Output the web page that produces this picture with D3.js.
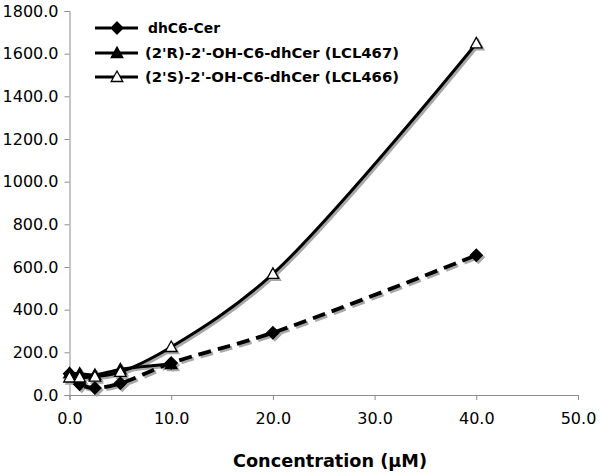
<!DOCTYPE html>
<html><head><meta charset="utf-8">
<script src="https://cdn.jsdelivr.net/npm/d3@7/dist/d3.min.js"></script>
<style>body{margin:0;background:#fff}</style>
</head><body>
<svg id="c" width="600" height="473"></svg>
<script>
const xTicks = [0, 10, 20, 30, 40, 50];
const yTicks = [0, 200, 400, 600, 800, 1000, 1200, 1400, 1600, 1800];
const seriesNames = ["dhC6-Cer", "(2'R)-2'-OH-C6-dhCer (LCL467)", "(2'S)-2'-OH-C6-dhCer (LCL466)"];
const dhC6X = [0, 1, 2.5, 5, 10, 20, 40];
const dhC6Y = [100, 50, 33, 55, 150, 292, 655];
const rX = [0, 1, 2.5, 5, 10];
const rY = [102, 100, 94, 120, 145];
const sX = [0, 1, 2.5, 5, 10, 20, 40];
const sY = [82, 82, 86, 108, 225, 568, 1648];
const xLabel = "Concentration (μM)";

const svg = d3.select("#c");
const x = d3.scaleLinear().domain([0, 50]).range([69.5, 578]);
const y = d3.scaleLinear().domain([0, 1800]).range([395, 11]);
const axisColor = "#8c8c8c";

const gx = svg.append("g").attr("transform", "translate(0,395)")
  .call(d3.axisBottom(x).tickValues(xTicks).tickSize(5).tickPadding(13).tickFormat(d3.format(".1f")));
const gy = svg.append("g").attr("transform", "translate(69.5,0)")
  .call(d3.axisLeft(y).tickValues(yTicks).tickSize(5).tickPadding(6).tickFormat(d3.format(".1f")));
[gx, gy].forEach(g => {
  g.select(".domain").attr("stroke", axisColor).attr("stroke-width", 1);
  g.selectAll(".tick line").attr("stroke", axisColor);
  g.selectAll(".tick text").attr("fill", "#000").style("font-family", "DejaVu Sans").style("font-size", "16px");
});

svg.append("text").attr("x", 330).attr("y", 467).attr("text-anchor", "middle")
  .style("font-family", "DejaVu Sans").style("font-weight", "bold").style("font-size", "18px")
  .attr("textLength", 194).attr("lengthAdjust", "spacingAndGlyphs")
  .text(xLabel);

const line = d3.line().x(d => x(d[0])).y(d => y(d[1])).curve(d3.curveCatmullRom.alpha(0.5));
const zip = (a, b) => a.map((v, i) => [v, b[i]]);

const series = [
  {pts: zip(dhC6X, dhC6Y), dash: "13,7", w: 3.8, marker: "diamond", fill: "#000"},
  {pts: zip(rX, rY), dash: null, w: 3, marker: "triangle", fill: "#000"},
  {pts: zip(sX, sY), dash: null, w: 3, marker: "triangle", fill: "#fff"}
];
const markerPath = {
  diamond: "M0,-6L6,0L0,6L-6,0Z",
  triangle: "M0,-6L5.8,4.5L-5.8,4.5Z"
};

const plot = svg.append("g");
function drawSeries(s, shadow) {
  const g = plot.append("g").attr("transform", shadow ? "translate(2,2)" : null);
  const col = shadow ? "#a8a8a8" : "#000";
  g.append("path").attr("d", line(s.pts)).attr("fill", "none").attr("stroke", col)
    .attr("stroke-width", s.w).attr("stroke-dasharray", s.dash);
  g.selectAll("path.m").data(s.pts).join("path").attr("class", "m")
    .attr("transform", d => `translate(${x(d[0])},${y(d[1])})`)
    .attr("d", markerPath[s.marker])
    .attr("fill", shadow ? col : s.fill).attr("stroke", col).attr("stroke-width", 1.3);
}
series.forEach(s => drawSeries(s, true));
series.forEach(s => drawSeries(s, false));

const lg = svg.append("g");
const rows = [28, 53, 77];
const lgX = [148, 145, 145];
const lgW = [72, 254, 254];
series.forEach((s, i) => {
  const yy = rows[i];
  lg.append("line").attr("x1", 95).attr("x2", 138).attr("y1", yy).attr("y2", yy)
    .attr("stroke", "#000").attr("stroke-width", 3)
    .attr("stroke-dasharray", i === 0 ? "16,11" : null);
  lg.append("path").attr("transform", `translate(117,${yy})`)
    .attr("d", markerPath[s.marker]).attr("fill", s.fill).attr("stroke", "#000").attr("stroke-width", 1.3);
  lg.append("text").attr("x", lgX[i]).attr("y", yy + 5)
    .style("font-family", "DejaVu Sans").style("font-weight", "bold").style("font-size", "14px")
    .attr("textLength", lgW[i]).attr("lengthAdjust", "spacingAndGlyphs")
    .text(seriesNames[i]);
});
</script>
</body></html>
